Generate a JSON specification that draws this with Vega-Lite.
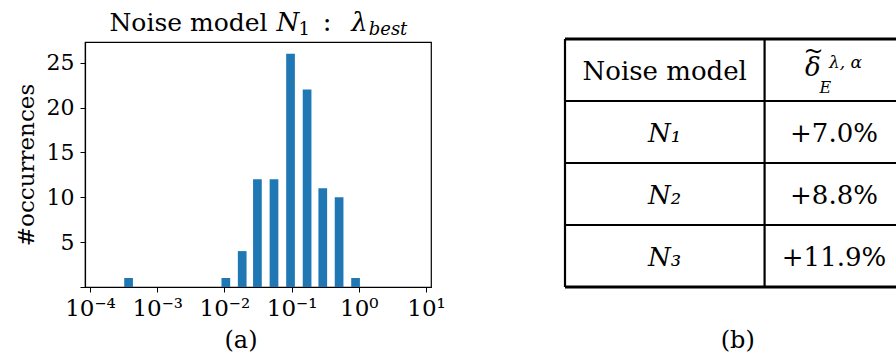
{
  "$schema": "https://vega.github.io/schema/vega-lite/v6.json",
  "background": "white",
  "padding": {"left": 14, "top": 9, "right": 0, "bottom": 0},
  "bounds": "flush",
  "spacing": 134,
  "config": {
    "font": "DejaVu Serif",
    "view": {"stroke": null},
    "axis": {
      "labelFont": "DejaVu Serif",
      "titleFont": "DejaVu Serif",
      "labelColor": "black",
      "titleColor": "black",
      "titleFontWeight": "normal",
      "domainColor": "black",
      "tickColor": "black",
      "grid": false
    },
    "text": {"font": "DejaVu Serif", "color": "black"}
  },
  "datasets": {
    "hist": [
      {"lambda": 0.000375, "occurrences": 1},
      {"lambda": 0.0105, "occurrences": 1},
      {"lambda": 0.0184, "occurrences": 4},
      {"lambda": 0.031, "occurrences": 12},
      {"lambda": 0.0547, "occurrences": 12},
      {"lambda": 0.0964, "occurrences": 26},
      {"lambda": 0.17, "occurrences": 22},
      {"lambda": 0.291, "occurrences": 11},
      {"lambda": 0.509, "occurrences": 10},
      {"lambda": 0.895, "occurrences": 1}
    ],
    "outerLines": [{"b": -0.5}, {"b": 3.5}],
    "innerLines": [{"b": 0.5}, {"b": 1.5}, {"b": 2.5}],
    "vLines": [{"c": 0.4111}, {"c": 1.59}],
    "cellsPlain": [
      {"row": 0, "col": 1, "label": "Noise model"},
      {"row": 1, "col": 2, "label": "+7.0%"},
      {"row": 2, "col": 2, "label": "+8.8%"},
      {"row": 3, "col": 2, "label": "+11.9%"}
    ],
    "cellsItalic": [
      {"row": 1, "col": 1, "label": "N₁"},
      {"row": 2, "col": 1, "label": "N₂"},
      {"row": 3, "col": 1, "label": "N₃"}
    ]
  },
  "hconcat": [
    {
      "width": 346,
      "height": 245,
      "view": {"stroke": "black", "strokeWidth": 1.2},
      "layer": [
        {
          "data": {"name": "hist"},
          "mark": {"type": "bar", "orient": "vertical", "size": 8.7, "color": "#1f77b4"},
          "encoding": {
            "x": {
              "field": "lambda",
              "type": "quantitative",
              "scale": {"type": "log", "domain": [0.0001, 10], "nice": false},
              "axis": {
                "values": [0.0001, 0.001, 0.01, 0.1, 1, 10],
                "labelExpr": "'10' + ['⁻⁴','⁻³','⁻²','⁻¹','⁰','¹'][round(log(datum.value)/LN10) + 4]",
                "labelFont": "DejaVu Serif",
                "labelFontSize": 23,
                "labelFlush": false,
                "labelOverlap": false,
                "labelPadding": 5,
                "tickSize": 5,
                "tickWidth": 1,
                "domainWidth": 1.2,
                "title": "(a)",
                "titleFont": "DejaVu Serif",
                "titleFontSize": 24,
                "titleX": 155.5,
                "titleY": 41,
                "titleAlign": "center",
                "titleBaseline": "top"
              }
            },
            "y": {
              "field": "occurrences",
              "type": "quantitative",
              "scale": {"domain": [0, 27.3], "nice": false, "zero": true},
              "axis": {
                "values": [0, 5, 10, 15, 20, 25],
                "labelExpr": "datum.value == 0 ? '' : datum.label",
                "labelFont": "DejaVu Serif",
                "labelFontSize": 22,
                "labelPadding": 6,
                "tickSize": 5,
                "tickWidth": 1,
                "domainWidth": 1.2,
                "title": "#occurrences",
                "titleFont": "DejaVu Serif",
                "titleFontSize": 23,
                "titlePadding": 8
              }
            }
          }
        },
        {
          "data": {"values": [{}]},
          "mark": {"type": "text", "font": "DejaVu Serif", "text": "Noise model", "fontSize": 25, "align": "left", "baseline": "alphabetic"},
          "encoding": {"x": {"datum": 0.000195, "type": "quantitative"}, "y": {"datum": 28.56, "type": "quantitative"}}
        },
        {
          "data": {"values": [{}]},
          "mark": {"type": "text", "font": "DejaVu Serif", "text": "N", "fontSize": 26, "fontStyle": "italic", "align": "left", "baseline": "alphabetic"},
          "encoding": {"x": {"datum": 0.0595, "type": "quantitative"}, "y": {"datum": 28.56, "type": "quantitative"}}
        },
        {
          "data": {"values": [{}]},
          "mark": {"type": "text", "font": "DejaVu Serif", "text": "1", "fontSize": 18, "align": "left", "baseline": "alphabetic"},
          "encoding": {"x": {"datum": 0.1268, "type": "quantitative"}, "y": {"datum": 28.05, "type": "quantitative"}}
        },
        {
          "data": {"values": [{}]},
          "mark": {"type": "text", "font": "DejaVu Serif", "text": ":", "fontSize": 26, "align": "left", "baseline": "alphabetic"},
          "encoding": {"x": {"datum": 0.29, "type": "quantitative"}, "y": {"datum": 28.56, "type": "quantitative"}}
        },
        {
          "data": {"values": [{}]},
          "mark": {"type": "text", "font": "DejaVu Serif", "text": "λ", "fontSize": 26, "fontStyle": "italic", "align": "left", "baseline": "alphabetic"},
          "encoding": {"x": {"datum": 0.771, "type": "quantitative"}, "y": {"datum": 28.56, "type": "quantitative"}}
        },
        {
          "data": {"values": [{}]},
          "mark": {"type": "text", "font": "DejaVu Serif", "text": "best", "fontSize": 18, "fontStyle": "italic", "align": "left", "baseline": "alphabetic"},
          "encoding": {"x": {"datum": 1.404, "type": "quantitative"}, "y": {"datum": 28.05, "type": "quantitative"}}
        }
      ]
    },
    {
      "width": 340,
      "height": 245,
      "layer": [
        {
          "data": {"name": "outerLines"},
          "mark": {"type": "rule", "color": "black", "strokeWidth": 2.8},
          "encoding": {
            "y": {"field": "b", "type": "quantitative", "scale": {"domain": [-0.4516, 3.5], "nice": false, "zero": false, "reverse": true}, "axis": null},
            "x": {
              "datum": 0.4111,
              "type": "quantitative",
              "scale": {"domain": [0.4111, 2.4194], "nice": false, "zero": false},
              "axis": {
                "labels": false,
                "ticks": false,
                "domain": false,
                "grid": false,
                "title": "(b)",
                "titleFont": "DejaVu Serif",
                "titleFontSize": 24,
                "titleX": 172.3,
                "titleY": 41,
                "titleAlign": "center",
                "titleBaseline": "top"
              }
            },
            "x2": {"datum": 2.4194}
          }
        },
        {
          "data": {"name": "innerLines"},
          "mark": {"type": "rule", "color": "black", "strokeWidth": 2.2},
          "encoding": {
            "y": {"field": "b", "type": "quantitative"},
            "x": {"datum": 0.4111, "type": "quantitative"},
            "x2": {"datum": 2.4194}
          }
        },
        {
          "data": {"name": "vLines"},
          "mark": {"type": "rule", "color": "black", "strokeWidth": 2.2},
          "encoding": {
            "x": {"field": "c", "type": "quantitative"},
            "y": {"datum": -0.5, "type": "quantitative"},
            "y2": {"datum": 3.5}
          }
        },
        {
          "data": {"name": "cellsPlain"},
          "mark": {"type": "text", "font": "DejaVu Serif", "fontSize": 26, "align": "center", "baseline": "middle", "dy": 2},
          "encoding": {
            "x": {"field": "col", "type": "quantitative"},
            "y": {"field": "row", "type": "quantitative"},
            "text": {"field": "label"}
          }
        },
        {
          "data": {"name": "cellsItalic"},
          "mark": {"type": "text", "font": "DejaVu Serif", "fontSize": 26, "fontStyle": "italic", "align": "center", "baseline": "middle", "dy": 2},
          "encoding": {
            "x": {"field": "col", "type": "quantitative"},
            "y": {"field": "row", "type": "quantitative"},
            "text": {"field": "label"}
          }
        },
        {
          "data": {"values": [{}]},
          "mark": {"type": "text", "font": "DejaVu Serif", "text": "δ", "fontSize": 26, "fontStyle": "italic", "align": "center", "baseline": "alphabetic", "dx": -21.2, "dy": 6.5},
          "encoding": {"x": {"datum": 2, "type": "quantitative"}, "y": {"datum": 0, "type": "quantitative"}}
        },
        {
          "data": {"values": [{}]},
          "mark": {"type": "text", "font": "DejaVu Serif", "text": "~", "fontSize": 24, "align": "center", "baseline": "alphabetic", "dx": -20.5, "dy": -11},
          "encoding": {"x": {"datum": 2, "type": "quantitative"}, "y": {"datum": 0, "type": "quantitative"}}
        },
        {
          "data": {"values": [{}]},
          "mark": {"type": "text", "font": "DejaVu Serif", "text": "λ, α", "fontSize": 17, "fontStyle": "italic", "align": "left", "baseline": "alphabetic", "dx": -5, "dy": -2.2},
          "encoding": {"x": {"datum": 2, "type": "quantitative"}, "y": {"datum": 0, "type": "quantitative"}}
        },
        {
          "data": {"values": [{}]},
          "mark": {"type": "text", "font": "DejaVu Serif", "text": "E", "fontSize": 16, "fontStyle": "italic", "align": "center", "baseline": "alphabetic", "dx": -8.7, "dy": 22.8},
          "encoding": {"x": {"datum": 2, "type": "quantitative"}, "y": {"datum": 0, "type": "quantitative"}}
        }
      ]
    }
  ]
}
